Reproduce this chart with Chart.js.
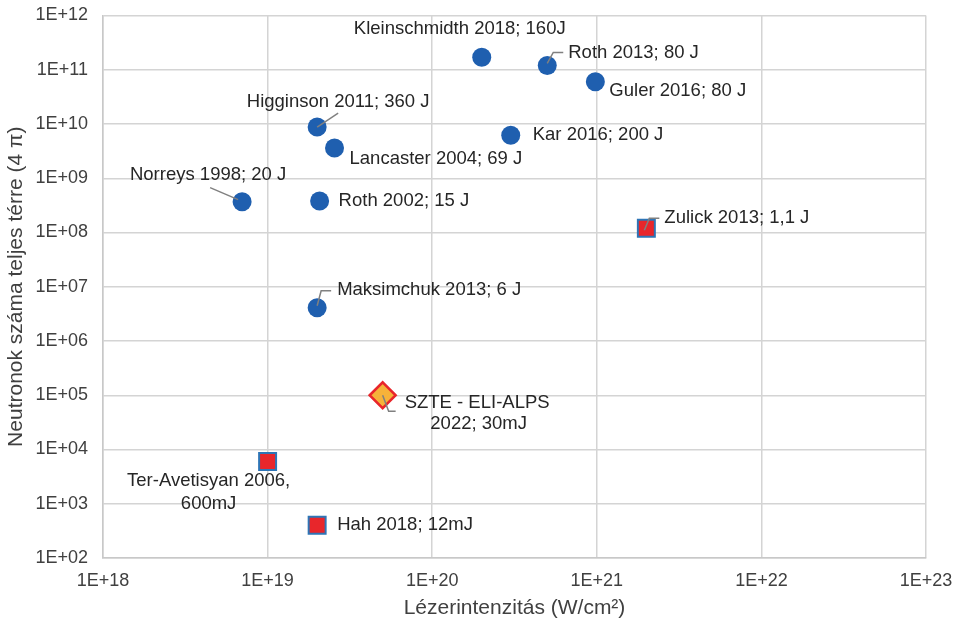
<!DOCTYPE html>
<html><head><meta charset="utf-8">
<script src="https://cdn.jsdelivr.net/npm/chart.js@4/dist/chart.umd.min.js"></script>
<style>html,body{margin:0;padding:0;background:#fff}#wrap{width:957px;height:621px}</style>
</head><body><div id="wrap"><canvas id="c" width="957" height="621"></canvas></div>
<script>
// ---- data ----
const circleNames = ["Kleinschmidth 2018; 160J","Roth 2013; 80 J","Guler 2016; 80 J","Higginson 2011; 360 J","Lancaster 2004; 69 J","Kar 2016; 200 J","Norreys 1998; 20 J","Roth 2002; 15 J","Maksimchuk 2013; 6 J"];
const circleX = [2e20, 5e20, 9.8e20, 2e19, 2.55e19, 3e20, 7e18, 2.07e19, 2e19];
const circleY = [1.7e11, 1.2e11, 6e10, 8.8e9, 3.6e9, 6.2e9, 3.7e8, 3.8e8, 4.1e6];
const squareNames = ["Zulick 2013; 1,1 J","Ter-Avetisyan 2006,\n600mJ","Hah 2018; 12mJ"];
const squareX = [2e21, 1e19, 2e19];
const squareY = [1.2e8, 6e3, 4e2];
const diamondNames = ["SZTE - ELI-ALPS\n2022; 30mJ"];
const diamondX = [5e19];
const diamondY = [1e5];
const xTicks = [1e18,1e19,1e20,1e21,1e22,1e23];
const yTicks = [1e2,1e3,1e4,1e5,1e6,1e7,1e8,1e9,1e10,1e11,1e12];

// ---- label placement (pixel offsets from marker; style only) ----
const labelStyle = {
  "Kleinschmidth 2018; 160J": {lines:[{a:"center",dx:-22,dy:-28}]},
  "Roth 2013; 80 J": {lines:[{a:"left",dx:21,dy:-13}], lead:[[0,-2],[6,-13],[16,-13]]},
  "Guler 2016; 80 J": {lines:[{a:"left",dx:14,dy:9}]},
  "Higginson 2011; 360 J": {lines:[{a:"center",dx:21,dy:-25}], lead:[[0,0],[21,-14]]},
  "Lancaster 2004; 69 J": {lines:[{a:"left",dx:15,dy:11}]},
  "Kar 2016; 200 J": {lines:[{a:"left",dx:22,dy:0}]},
  "Norreys 1998; 20 J": {lines:[{a:"center",dx:-34,dy:-27}], lead:[[-32,-14],[-4,-2]]},
  "Roth 2002; 15 J": {lines:[{a:"left",dx:19,dy:0}]},
  "Maksimchuk 2013; 6 J": {lines:[{a:"left",dx:20,dy:-18}], lead:[[0,-2],[4,-17],[14,-17]]},
  "Zulick 2013; 1,1 J": {lines:[{a:"left",dx:18,dy:-10}], lead:[[-2,2],[3,-10],[13,-10]]},
  "Ter-Avetisyan 2006,\n600mJ": {lines:[{a:"center",dx:-59,dy:19},{a:"center",dx:-59,dy:42}]},
  "Hah 2018; 12mJ": {lines:[{a:"left",dx:20,dy:0}]},
  "SZTE - ELI-ALPS\n2022; 30mJ": {lines:[{a:"left",dx:22,dy:8},{a:"center",dx:96,dy:29}], lead:[[0,0],[6,16],[13,16]]}
};

const toPts = (xs, ys, names) => xs.map((x,i)=>({x:x, y:ys[i], name:names[i]}));
const FONT = '"Liberation Sans", Arial, sans-serif';

const labelPlugin = {
  id:'pointLabels',
  afterDatasetsDraw(chart){
    const ctx = chart.ctx, xs = chart.scales.x, ys = chart.scales.y;
    ctx.save();
    chart.data.datasets.forEach(ds=>{
      ds.data.forEach(p=>{
        const st = labelStyle[p.name]; if(!st) return;
        const px = xs.getPixelForValue(p.x), py = ys.getPixelForValue(p.y);
        if(st.lead){
          ctx.strokeStyle='#808080'; ctx.lineWidth=1.5; ctx.beginPath();
          st.lead.forEach((o,i)=>{ if(i===0) ctx.moveTo(px+o[0],py+o[1]); else ctx.lineTo(px+o[0],py+o[1]); });
          ctx.stroke();
        }
        const parts = p.name.split("\n");
        ctx.fillStyle='#262626';
        ctx.font='18.5px ' + FONT;
        ctx.textBaseline='middle';
        parts.forEach((t,i)=>{
          const l = st.lines[i];
          ctx.textAlign = l.a;
          ctx.fillText(t, px+l.dx, py+l.dy);
        });
      });
    });
    ctx.restore();
  }
};

const tickFmt = v => { const e = Math.round(Math.log10(v)); return "1E+" + (e<10?"0":"") + e; };

new Chart(document.getElementById('c'), {
  type:'scatter',
  data:{datasets:[
    {data:toPts(circleX,circleY,circleNames), pointStyle:'circle', pointRadius:9.5, pointHoverRadius:9.5, backgroundColor:'#1f5faf', borderColor:'#1f5faf', borderWidth:0},
    {data:toPts(squareX,squareY,squareNames), pointStyle:'rect', pointRadius:12, pointHoverRadius:12, backgroundColor:'#e8262b', borderColor:'#2e75b6', borderWidth:2},
    {data:toPts(diamondX,diamondY,diamondNames), pointStyle:'rectRot', pointRadius:13, pointHoverRadius:13, backgroundColor:'#f6b23a', borderColor:'#e8262b', borderWidth:2.5}
  ]},
  options:{
    responsive:false, animation:false, events:[],
    layout:{padding:{left:0,top:15,right:31,bottom:0}},
    plugins:{legend:{display:false}, tooltip:{enabled:false}},
    scales:{
      x:{type:'logarithmic', min:1e18, max:1e23,
        afterBuildTicks: s => { s.ticks = xTicks.map(v=>({value:v})); },
        afterFit: s => { s.height = 63; s.paddingLeft = 0; s.paddingRight = 0; },
        grid:{color:'#d4d4d4', lineWidth:1.5, drawTicks:false},
        border:{color:'#c8c8c8', width:1.5},
        ticks:{callback:tickFmt, color:'#404040', font:{family:FONT, size:18}, padding:12, maxRotation:0, autoSkip:false},
        title:{display:true, text:'Lézerintenzitás (W/cm²)', color:'#404040', font:{family:FONT, size:21}, padding:{top:0,bottom:0}}
      },
      y:{type:'logarithmic', min:1e2, max:1e12,
        afterBuildTicks: s => { s.ticks = yTicks.map(v=>({value:v})); },
        afterFit: s => { s.width = 103; s.paddingTop = 0; s.paddingBottom = 0; },
        grid:{color:'#d4d4d4', lineWidth:1.5, drawTicks:false},
        border:{color:'#c8c8c8', width:1.5},
        ticks:{callback:tickFmt, color:'#404040', font:{family:FONT, size:18}, padding:15, autoSkip:false},
        title:{display:true, text:'Neutronok száma teljes térre (4 π)', color:'#404040', font:{family:FONT, size:21}, padding:{top:4,bottom:0}}
      }
    }
  },
  plugins:[labelPlugin]
});
</script></body></html>
